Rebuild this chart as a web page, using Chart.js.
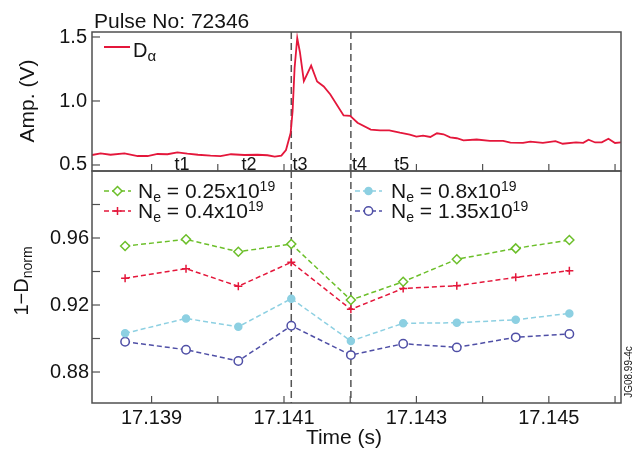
<!DOCTYPE html>
<html>
<head>
<meta charset="utf-8">
<script src="https://cdn.jsdelivr.net/npm/chart.js@4.4.1/dist/chart.umd.min.js"></script>
<style>
    body { margin: 0; background: #fff; }
    #wrap { position: relative; width: 638px; height: 450px; }
    #wrap canvas { position: absolute; left: 0; top: 0; }
</style>
</head>
<body>
<div id="wrap">
    <canvas id="topChart" width="638" height="450"></canvas>
    <canvas id="bottomChart" width="638" height="450"></canvas>
</div>
<script>
// D-alpha trace (top panel)
let daTime = [17.1381, 17.13823, 17.13838, 17.13859, 17.13879, 17.13894, 17.13909, 17.13924, 17.13939, 17.13954,
    17.13970, 17.13989, 17.14004, 17.14020, 17.14040, 17.14060, 17.14075, 17.14086, 17.14096, 17.14103,
    17.14110, 17.14113, 17.14116, 17.14120, 17.14124, 17.14130, 17.14141, 17.14150, 17.14160, 17.14170,
    17.14190, 17.14200, 17.14211, 17.14231, 17.14245, 17.14259, 17.14275, 17.14290, 17.14300, 17.14310,
    17.14321, 17.14331, 17.14341, 17.14351, 17.14361, 17.14371, 17.14391, 17.14411, 17.14431, 17.14442,
    17.14461, 17.14472, 17.14491, 17.14510, 17.14521, 17.14541, 17.14552, 17.14560, 17.14570, 17.14580,
    17.14590, 17.14600, 17.14609];
let daAmp = [0.578, 0.591, 0.580, 0.591, 0.570, 0.570, 0.586, 0.584, 0.599, 0.588,
    0.580, 0.573, 0.570, 0.584, 0.578, 0.580, 0.576, 0.565, 0.573, 0.617,
    0.750, 0.922, 1.258, 1.492, 1.383, 1.156, 1.276, 1.152, 1.113, 1.051,
    0.887, 0.883, 0.830, 0.776, 0.771, 0.770, 0.752, 0.737, 0.721, 0.730,
    0.719, 0.748, 0.740, 0.716, 0.709, 0.693, 0.699, 0.688, 0.688, 0.674,
    0.672, 0.682, 0.673, 0.686, 0.666, 0.676, 0.673, 0.698, 0.676, 0.677,
    0.705, 0.672, 0.676];

// 1-Dnorm points (bottom panel)
let sampleTime = [17.13860, 17.13952, 17.14031, 17.14111, 17.14201, 17.14280, 17.14361, 17.14450, 17.14531];
let ne025 = [0.9552, 0.9592, 0.9518, 0.9564, 0.9230, 0.9339, 0.9473, 0.9538, 0.9588];
let ne04 = [0.9359, 0.9417, 0.9312, 0.9455, 0.9174, 0.9299, 0.9315, 0.9365, 0.9405];
let ne08 = [0.9031, 0.9120, 0.9070, 0.9238, 0.8985, 0.9091, 0.9094, 0.9112, 0.9150];
let ne135 = [0.8981, 0.8933, 0.8866, 0.9076, 0.8901, 0.8969, 0.8947, 0.9007, 0.9027];
let neLabels = ['0.25', '0.4', '0.8', '1.35'];

// axes
let xTicks = [17.139, 17.140, 17.141, 17.142, 17.143, 17.144, 17.145, 17.146];
let xTickLabels = ['17.139', '', '17.141', '', '17.143', '', '17.145', ''];
let topYTicks = [0.5, 1.0, 1.5];
let topYLabels = ['0.5', '1.0', '1.5'];
let botYTicks = [0.88, 0.90, 0.92, 0.94, 0.96, 0.98];
let botYLabels = ['0.88', '', '0.92', '', '0.96', ''];

// t1..t5 markers
let dashTimes = [17.14111, 17.14201];
let tLabels = ['t1', 't2', 't3', 't4', 't5'];
let tLabelTimes = [17.13946, 17.14047, 17.14124, 17.14214, 17.14278];

const FONT = "'Liberation Sans', Arial, sans-serif";
const TEXT = '#141414';
const AXIS = '#505050';
const RED = '#e4173b';
const GREEN = '#6cbf2a';
const LBLUE = '#8dd0e2';
const DBLUE = '#4f4fa6';

// draws a run of text pieces (for sub/superscripts), returns end x
function drawParts(ctx, x, y, parts) {
    parts.forEach(function (p) {
        ctx.font = p.size + 'px ' + FONT;
        ctx.fillText(p.t, x, y + p.dy);
        x += ctx.measureText(p.t).width;
    });
    return x;
}

function partsWidth(ctx, parts) {
    let w = 0;
    parts.forEach(function (p) {
        ctx.font = p.size + 'px ' + FONT;
        w += ctx.measureText(p.t).width;
    });
    return w;
}

function drawRotated(ctx, parts, baseX, centerY) {
    ctx.save();
    ctx.translate(baseX, centerY);
    ctx.rotate(-Math.PI / 2);
    ctx.textAlign = 'left';
    ctx.textBaseline = 'alphabetic';
    drawParts(ctx, -partsWidth(ctx, parts) / 2, 0, parts);
    ctx.restore();
}

// frame, inward ticks, dashed t3/t4 lines and the panel's own texts
function makeFramePlugin(extra) {
    return {
        id: 'frame',
        beforeDatasetsDraw: function (chart) {
            let ctx = chart.ctx, a = chart.chartArea, x = chart.scales.x;
            ctx.save();
            ctx.strokeStyle = '#555';
            ctx.lineWidth = 1.5;
            ctx.setLineDash([7, 4]);
            dashTimes.forEach(function (t) {
                let px = x.getPixelForValue(t);
                ctx.beginPath();
                ctx.moveTo(px, a.top);
                ctx.lineTo(px, a.bottom);
                ctx.stroke();
            });
            ctx.restore();
        },
        afterDraw: function (chart) {
            let ctx = chart.ctx, a = chart.chartArea;
            ctx.save();
            ctx.strokeStyle = AXIS;
            ctx.lineWidth = 1.5;
            ctx.strokeRect(a.left, a.top, a.right - a.left, a.bottom - a.top);
            ctx.lineWidth = 1.2;
            chart.scales.x.ticks.forEach(function (t) {
                let px = chart.scales.x.getPixelForValue(t.value);
                ctx.beginPath();
                ctx.moveTo(px, a.bottom);
                ctx.lineTo(px, a.bottom - 7);
                ctx.stroke();
            });
            chart.scales.y.ticks.forEach(function (t) {
                let py = chart.scales.y.getPixelForValue(t.value);
                ctx.beginPath();
                ctx.moveTo(a.left, py);
                ctx.lineTo(a.left + 8, py);
                ctx.stroke();
            });
            ctx.fillStyle = TEXT;
            ctx.textBaseline = 'alphabetic';
            ctx.textAlign = 'left';
            extra(chart, ctx);
            ctx.restore();
        }
    };
}

function drawTopText(chart, ctx) {
    let x = chart.scales.x;
    ctx.font = '21px ' + FONT;
    ctx.fillText('Pulse No: 72346', 94, 28);

    // legend
    ctx.strokeStyle = RED;
    ctx.lineWidth = 2;
    ctx.beginPath();
    ctx.moveTo(104, 47);
    ctx.lineTo(130, 47);
    ctx.stroke();
    drawParts(ctx, 133, 57, [{t: 'D', size: 20, dy: 0}, {t: 'α', size: 15, dy: 4}]);

    ctx.font = '18px ' + FONT;
    ctx.textAlign = 'center';
    tLabels.forEach(function (s, i) {
        ctx.fillText(s, x.getPixelForValue(tLabelTimes[i]), 170);
    });

    drawRotated(ctx, [{t: 'Amp. (V)', size: 21, dy: 0}], 34, 101);
}

function drawBottomText(chart, ctx) {
    let lx = [104, 104, 355, 355];
    let ly = [191, 211, 191, 211];
    chart.data.datasets.forEach(function (ds, i) {
        ctx.save();
        ctx.strokeStyle = ds.borderColor;
        ctx.lineWidth = ds.borderWidth;
        ctx.setLineDash(ds.borderDash);
        ctx.beginPath();
        ctx.moveTo(lx[i], ly[i]);
        ctx.lineTo(lx[i] + 27, ly[i]);
        ctx.stroke();
        ctx.setLineDash([]);
        ctx.fillStyle = ds.pointBackgroundColor;
        ctx.strokeStyle = ds.pointBorderColor;
        ctx.lineWidth = ds.pointBorderWidth;
        Chart.helpers.drawPoint(ctx, {
            pointStyle: ds.pointStyle, radius: ds.pointRadius, rotation: 0, borderWidth: ds.pointBorderWidth
        }, lx[i] + 13.5, ly[i]);
        ctx.restore();
        drawParts(ctx, lx[i] + 34 + (i > 1 ? 2 : 0), ly[i] + 7, [
            {t: 'N', size: 21, dy: 0},
            {t: 'e', size: 14, dy: 4},
            {t: ' = ' + neLabels[i] + 'x10', size: 21, dy: 0},
            {t: '19', size: 14, dy: -7}
        ]);
    });

    drawRotated(ctx, [{t: '1\u2212D', size: 20, dy: 0}, {t: 'norm', size: 14, dy: 4}], 28, 281);

    ctx.font = '21px ' + FONT;
    ctx.textAlign = 'center';
    ctx.fillText('Time (s)', 344, 444);

    drawRotated(ctx, [{t: 'JG08.99-4c', size: 10, dy: 0}], 632, 372);
}

function seriesSet(values, color, style, radius, fill) {
    return {
        data: sampleTime.map(function (t, i) { return {x: t, y: values[i]}; }),
        borderColor: color,
        borderWidth: 1.5,
        borderDash: [5, 3],
        tension: 0,
        pointStyle: style,
        pointRadius: radius,
        pointBorderWidth: 1.5,
        pointBorderColor: color,
        pointBackgroundColor: fill
    };
}

const noGrid = {display: false, drawTicks: false};

const xBase = {
    type: 'linear',
    min: 17.1381,
    max: 17.14609,
    grid: noGrid,
    border: {display: false},
    afterBuildTicks: function (s) {
        s.ticks = xTicks.map(function (v) { return {value: v}; });
    }
};

new Chart(document.getElementById('topChart'), {
    type: 'line',
    data: {
        datasets: [{
            data: daTime.map(function (t, i) { return {x: t, y: daAmp[i]}; }),
            borderColor: RED,
            borderWidth: 1.8,
            pointRadius: 0,
            tension: 0
        }]
    },
    options: {
        responsive: false,
        animation: false,
        layout: {padding: {left: 0, right: 17, top: 32, bottom: 279}},
        plugins: {legend: {display: false}, tooltip: {enabled: false}},
        scales: {
            x: Object.assign({}, xBase, {
                ticks: {display: false},
                afterFit: function (s) { s.height = 0; }
            }),
            y: {
                min: 0.453,
                max: 1.539,
                grid: noGrid,
                border: {display: false},
                ticks: {
                    font: {family: FONT, size: 20},
                    color: TEXT,
                    padding: 5,
                    callback: function (v, i) { return topYLabels[i]; }
                },
                afterBuildTicks: function (s) {
                    s.ticks = topYTicks.map(function (v) { return {value: v}; });
                },
                afterFit: function (s) { s.width = 92; }
            }
        }
    },
    plugins: [makeFramePlugin(drawTopText)]
});

new Chart(document.getElementById('bottomChart'), {
    type: 'line',
    data: {
        datasets: [
            seriesSet(ne025, GREEN, 'rectRot', 4.5, '#fff'),
            seriesSet(ne04, RED, 'cross', 4, RED),
            seriesSet(ne08, LBLUE, 'circle', 3.5, LBLUE),
            seriesSet(ne135, DBLUE, 'circle', 4.2, '#fff')
        ]
    },
    options: {
        responsive: false,
        animation: false,
        layout: {padding: {left: 0, right: 17, top: 171, bottom: 0}},
        plugins: {legend: {display: false}, tooltip: {enabled: false}},
        scales: {
            x: Object.assign({}, xBase, {
                ticks: {
                    font: {family: FONT, size: 20},
                    color: TEXT,
                    padding: 3,
                    autoSkip: false,
                    maxRotation: 0,
                    callback: function (v, i) { return xTickLabels[i]; }
                },
                afterFit: function (s) { s.height = 47; }
            }),
            y: {
                min: 0.8615,
                max: 1.0,
                grid: noGrid,
                border: {display: false},
                ticks: {
                    font: {family: FONT, size: 20},
                    color: TEXT,
                    padding: 3,
                    callback: function (v, i) { return botYLabels[i]; }
                },
                afterBuildTicks: function (s) {
                    s.ticks = botYTicks.map(function (v) { return {value: v}; });
                },
                afterFit: function (s) { s.width = 92; }
            }
        }
    },
    plugins: [makeFramePlugin(drawBottomText)]
});
</script>
</body>
</html>
